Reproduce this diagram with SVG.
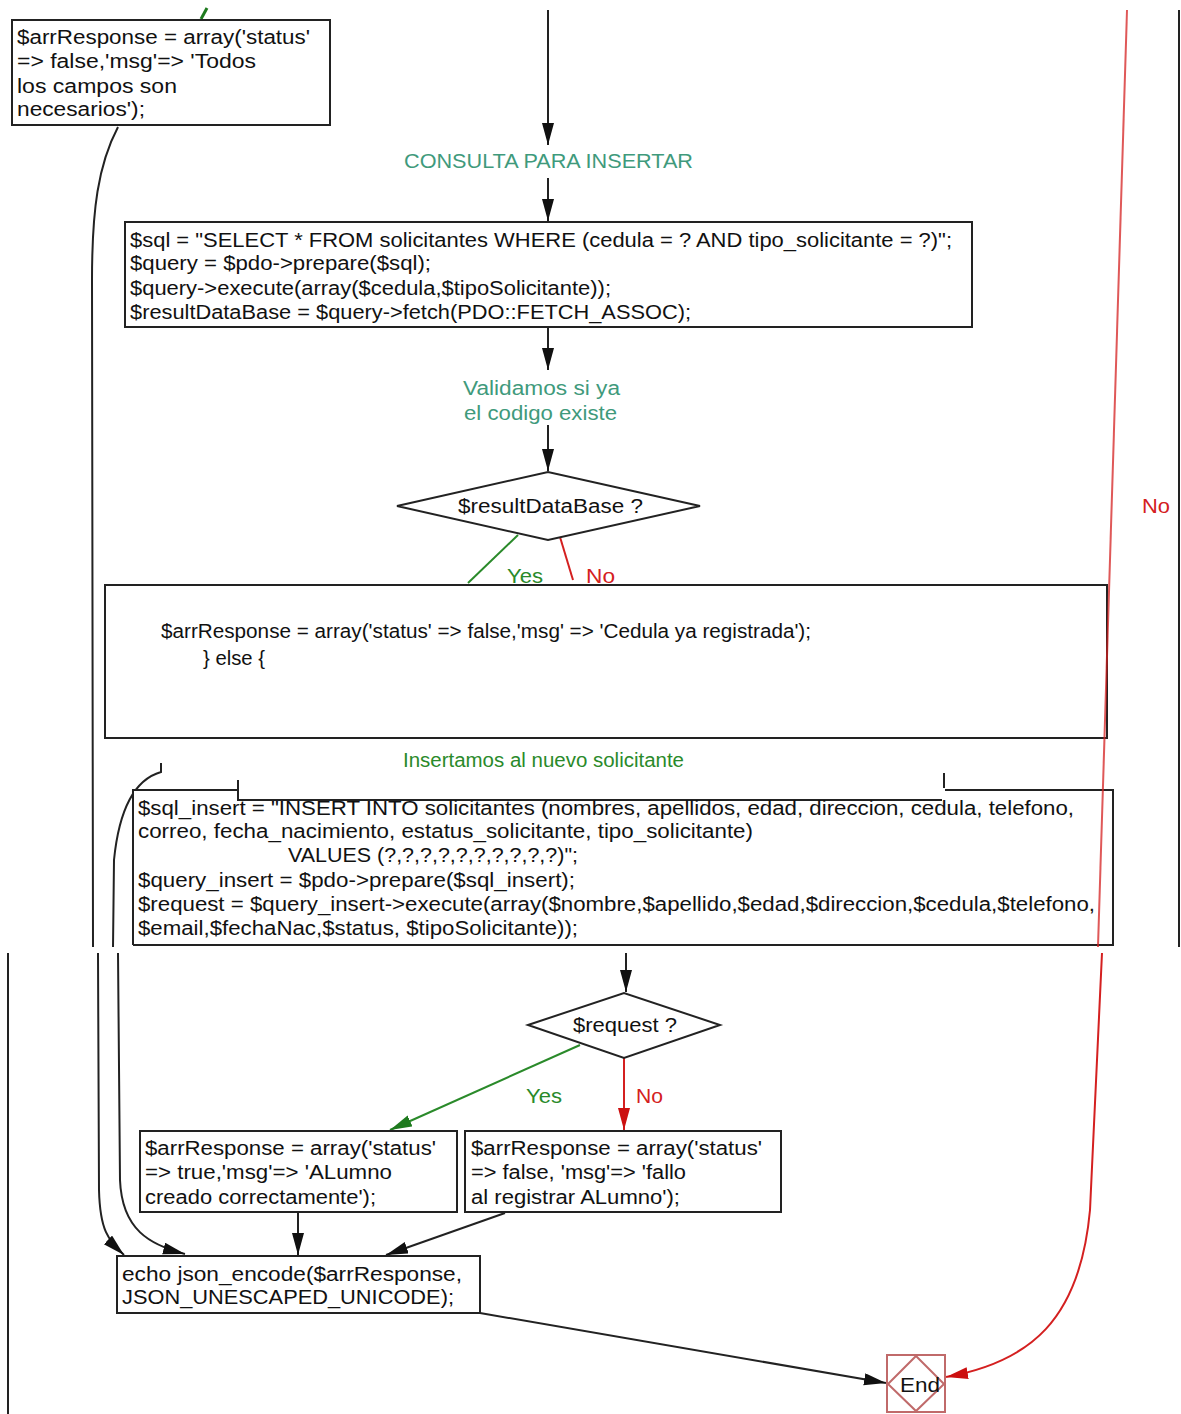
<svg xmlns="http://www.w3.org/2000/svg" width="1181" height="1414" viewBox="0 0 1181 1414">
<style>
.box{fill:#fff;stroke:#222;stroke-width:2}
.t{font-family:"Liberation Sans",Arial,sans-serif;font-size:20px;fill:#111}
.teal{font-family:"Liberation Sans",Arial,sans-serif;font-size:20px;fill:#3f9a7c}
.grn{font-family:"Liberation Sans",Arial,sans-serif;font-size:20px;fill:#2a8a2a}
.red{font-family:"Liberation Sans",Arial,sans-serif;font-size:20px;fill:#d42020}
.ln{fill:none;stroke:#222;stroke-width:2}
.lg{fill:none;stroke:#2a8a2a;stroke-width:2}
.lr{fill:none;stroke:#d42020;stroke-width:2}
</style>
<defs>
<marker id="ab" markerUnits="userSpaceOnUse" markerWidth="24" markerHeight="14" refX="22" refY="6" orient="auto"><path d="M0,0 L22,6 L0,12 z" fill="#111"/></marker>
<marker id="ag" markerUnits="userSpaceOnUse" markerWidth="24" markerHeight="14" refX="22" refY="6" orient="auto"><path d="M0,0 L22,6 L0,12 z" fill="#1e7a1e"/></marker>
<marker id="ar" markerUnits="userSpaceOnUse" markerWidth="24" markerHeight="14" refX="22" refY="6" orient="auto"><path d="M0,0 L22,6 L0,12 z" fill="#cc1010"/></marker>
</defs>
<rect width="1181" height="1414" fill="#fff"/>

<g id="connectors">
<path class="ln" d="M8,953 L8,1414" stroke="#888"/>
<path class="ln" d="M1179,10 L1179,947"/>
<path d="M207,8 L201,19" stroke="#1e7a1e" stroke-width="3"/>
<path class="ln" d="M548,10 L548,145" marker-end="url(#ab)"/>
<path class="ln" d="M548,178 L548,221" marker-end="url(#ab)"/>
<path class="ln" d="M548,327 L548,370" marker-end="url(#ab)"/>
<path class="ln" d="M548,425 L548,471" marker-end="url(#ab)"/>
<path class="lg" d="M518,535 L468,583"/>
<path class="lr" d="M560,537 L573,580"/>
<path class="ln" d="M118,127 C98,165 92,210 92,280 L93,947" stroke="#555"/>
<path class="ln" d="M98,953 L99,1190 C100,1230 108,1240 124,1255" marker-end="url(#ab)"/>
<path class="ln" d="M161,763 L161,772 C140,778 120,800 114,860 L113,947"/>
<path class="ln" d="M118,953 L120,1180 C122,1230 150,1245 185,1254" marker-end="url(#ab)"/>
<path class="ln" d="M626,953 L626,992" marker-end="url(#ab)"/>
<path class="lg" d="M580,1045 L390,1130" marker-end="url(#ag)"/>
<path class="lr" d="M624,1058 L624,1130" marker-end="url(#ar)"/>
<path class="ln" d="M298,1212 L298,1255" marker-end="url(#ab)"/>
<path class="ln" d="M505,1213 L386,1255" marker-end="url(#ab)"/>
<path class="ln" d="M480,1313 L886,1383" marker-end="url(#ab)"/>
</g>

<text class="grn" x="507" y="583" textLength="36" lengthAdjust="spacingAndGlyphs">Yes</text>
<text class="red" x="586" y="583" textLength="29" lengthAdjust="spacingAndGlyphs">No</text>

<g id="n1">
<rect class="box" x="12" y="20" width="318" height="105"/>
<text class="t" x="17" y="44" textLength="293" lengthAdjust="spacingAndGlyphs">$arrResponse = array('status'</text>
<text class="t" x="17" y="68" textLength="239" lengthAdjust="spacingAndGlyphs">=&gt; false,'msg'=&gt; 'Todos</text>
<text class="t" x="17" y="93" textLength="160" lengthAdjust="spacingAndGlyphs">los campos son</text>
<text class="t" x="17" y="116" textLength="128" lengthAdjust="spacingAndGlyphs">necesarios');</text>
</g>

<g id="l1"><text class="teal" x="404" y="168" textLength="289" lengthAdjust="spacingAndGlyphs">CONSULTA PARA INSERTAR</text></g>

<g id="n2">
<rect class="box" x="125" y="222" width="847" height="105"/>
<text class="t" x="130" y="247" textLength="822" lengthAdjust="spacingAndGlyphs">$sql = "SELECT * FROM solicitantes WHERE (cedula = ? AND tipo_solicitante = ?)";</text>
<text class="t" x="130" y="270" textLength="301" lengthAdjust="spacingAndGlyphs">$query = $pdo-&gt;prepare($sql);</text>
<text class="t" x="130" y="295" textLength="481" lengthAdjust="spacingAndGlyphs">$query-&gt;execute(array($cedula,$tipoSolicitante));</text>
<text class="t" x="130" y="319" textLength="561" lengthAdjust="spacingAndGlyphs">$resultDataBase = $query-&gt;fetch(PDO::FETCH_ASSOC);</text>
</g>

<g id="l2">
<text class="teal" x="463" y="395" textLength="157" lengthAdjust="spacingAndGlyphs">Validamos si ya</text>
<text class="teal" x="464" y="420" textLength="153" lengthAdjust="spacingAndGlyphs">el codigo existe</text>
</g>

<g id="d1">
<polygon points="397,506 548,472 700,506 548,540" fill="#fff" stroke="#222" stroke-width="2"/>
<text class="t" x="458" y="513" textLength="185" lengthAdjust="spacingAndGlyphs">$resultDataBase ?</text>
</g>

<g id="n3">
<rect class="box" x="105" y="585" width="1002" height="153"/>
<text class="t" x="161" y="638" textLength="650" lengthAdjust="spacingAndGlyphs">$arrResponse = array('status' =&gt; false,'msg' =&gt; 'Cedula ya registrada');</text>
<text class="t" x="203" y="665" textLength="62" lengthAdjust="spacingAndGlyphs">} else {</text>
</g>

<g id="l3"><text class="grn" x="403" y="767" textLength="281" lengthAdjust="spacingAndGlyphs">Insertamos al nuevo solicitante</text></g>

<g id="n4">
<rect x="133" y="790" width="980" height="155" fill="#fff"/>
<path class="ln" d="M133,945 L133,790 L238,790 M238,780 L238,800 L942,800 M944,773 L944,788 M945,790 L1113,790 L1113,945 L133,945"/>
<text class="t" x="138" y="815" textLength="936" lengthAdjust="spacingAndGlyphs">$sql_insert = "INSERT INTO solicitantes (nombres, apellidos, edad, direccion, cedula, telefono,</text>
<text class="t" x="138" y="838" textLength="615" lengthAdjust="spacingAndGlyphs">correo, fecha_nacimiento, estatus_solicitante, tipo_solicitante)</text>
<text class="t" x="288" y="862" textLength="290" lengthAdjust="spacingAndGlyphs">VALUES (?,?,?,?,?,?,?,?,?,?)";</text>
<text class="t" x="138" y="887" textLength="437" lengthAdjust="spacingAndGlyphs">$query_insert = $pdo-&gt;prepare($sql_insert);</text>
<text class="t" x="138" y="911" textLength="957" lengthAdjust="spacingAndGlyphs">$request = $query_insert-&gt;execute(array($nombre,$apellido,$edad,$direccion,$cedula,$telefono,</text>
<text class="t" x="138" y="935" textLength="440" lengthAdjust="spacingAndGlyphs">$email,$fechaNac,$status, $tipoSolicitante));</text>
</g>

<g id="red-no">
<path class="lr" d="M1127,10 L1098,947" stroke-opacity="0.75"/>
<path class="lr" d="M1102,953 L1090,1210 C1080,1320 1030,1362 946,1377" marker-end="url(#ar)"/>
<text class="red" x="1142" y="513" textLength="28" lengthAdjust="spacingAndGlyphs">No</text>
</g>

<g id="d2">
<polygon points="528,1025 624,993 720,1025 624,1058" fill="#fff" stroke="#222" stroke-width="2"/>
<text class="t" x="573" y="1032" textLength="104" lengthAdjust="spacingAndGlyphs">$request ?</text>
</g>
<text class="grn" x="526" y="1103" textLength="36" lengthAdjust="spacingAndGlyphs">Yes</text>
<text class="red" x="636" y="1103" textLength="27" lengthAdjust="spacingAndGlyphs">No</text>

<g id="n5">
<rect class="box" x="140" y="1131" width="317" height="81"/>
<text class="t" x="145" y="1155" textLength="291" lengthAdjust="spacingAndGlyphs">$arrResponse = array('status'</text>
<text class="t" x="145" y="1179" textLength="247" lengthAdjust="spacingAndGlyphs">=&gt; true,'msg'=&gt; 'ALumno</text>
<text class="t" x="145" y="1204" textLength="231" lengthAdjust="spacingAndGlyphs">creado correctamente');</text>
</g>

<g id="n6">
<rect class="box" x="465" y="1131" width="316" height="81"/>
<text class="t" x="471" y="1155" textLength="291" lengthAdjust="spacingAndGlyphs">$arrResponse = array('status'</text>
<text class="t" x="471" y="1179" textLength="215" lengthAdjust="spacingAndGlyphs">=&gt; false, 'msg'=&gt; 'fallo</text>
<text class="t" x="471" y="1204" textLength="209" lengthAdjust="spacingAndGlyphs">al registrar ALumno');</text>
</g>

<g id="n7">
<rect class="box" x="117" y="1256" width="363" height="57"/>
<text class="t" x="122" y="1281" textLength="340" lengthAdjust="spacingAndGlyphs">echo json_encode($arrResponse,</text>
<text class="t" x="122" y="1304" textLength="332" lengthAdjust="spacingAndGlyphs">JSON_UNESCAPED_UNICODE);</text>
</g>

<g id="end">
<rect x="887" y="1355" width="58" height="57" fill="#fff" stroke="#c06a6a" stroke-width="2"/>
<polygon points="916,1356 944,1384 916,1411 888,1384" fill="none" stroke="#c06a6a" stroke-width="2"/>
<text class="t" x="900" y="1392" textLength="40" lengthAdjust="spacingAndGlyphs">End</text>
</g>
</svg>
